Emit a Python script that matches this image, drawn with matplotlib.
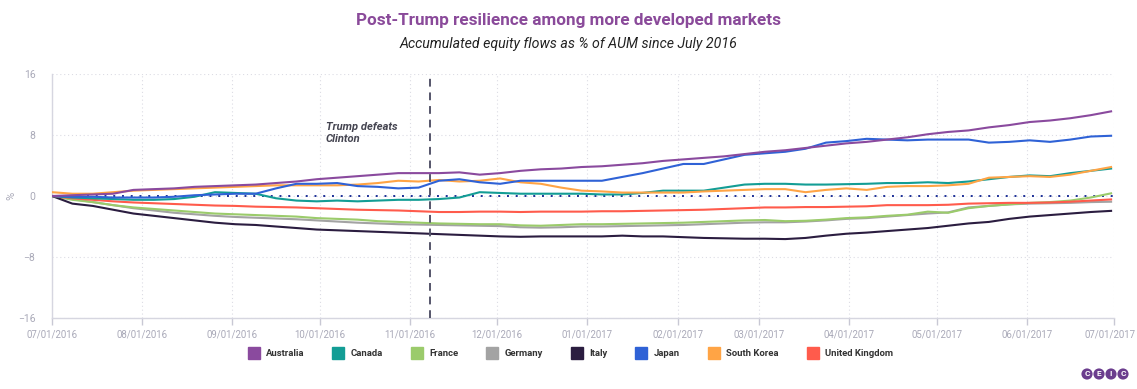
import matplotlib
matplotlib.use("Agg")
import matplotlib.pyplot as plt
import matplotlib.dates as mdates
from matplotlib.transforms import ScaledTranslation
import numpy as np
import pandas as pd

dates = pd.date_range("2016-07-01", periods=53, freq="7D")

australia = [0.0, 0.1, 0.2, 0.3, 0.8, 0.9, 1.0, 1.2, 1.3, 1.4, 1.5, 1.7, 1.9, 2.2, 2.4, 2.6, 2.8, 3.0, 3.0, 3.0,
             3.1, 2.8, 3.0, 3.3, 3.5, 3.6, 3.8, 3.9, 4.1, 4.3, 4.6, 4.8, 5.0, 5.2, 5.5, 5.8, 6.0, 6.3, 6.6, 6.9,
             7.1, 7.4, 7.7, 8.1, 8.4, 8.6, 9.0, 9.3, 9.7, 9.9, 10.2, 10.6, 11.1]
japan = [0.0, -0.1, -0.1, -0.2, -0.2, -0.2, -0.1, 0.1, 0.2, 0.3, 0.3, 1.0, 1.6, 1.6, 1.7, 1.3, 1.2, 1.0, 1.1, 2.0,
         2.2, 1.8, 1.6, 2.0, 2.0, 2.0, 2.0, 2.0, 2.5, 3.0, 3.6, 4.2, 4.2, 4.8, 5.4, 5.6, 5.8, 6.2, 7.0, 7.2,
         7.5, 7.4, 7.3, 7.4, 7.4, 7.4, 7.0, 7.1, 7.3, 7.1, 7.4, 7.8, 7.9]
south_korea = [0.5, 0.3, 0.3, 0.5, 0.7, 0.8, 0.9, 1.0, 1.1, 1.2, 1.3, 1.4, 1.4, 1.4, 1.4, 1.5, 1.7, 2.0, 1.9, 2.1,
               1.9, 2.0, 2.3, 1.8, 1.6, 1.1, 0.7, 0.6, 0.45, 0.45, 0.45, 0.45, 0.6, 0.7, 0.8, 0.9, 0.9, 0.5, 0.8, 1.0,
               0.8, 1.2, 1.3, 1.3, 1.4, 1.6, 2.4, 2.5, 2.6, 2.5, 2.8, 3.3, 3.8]
canada = [0.0, -0.2, -0.3, -0.4, -0.5, -0.5, -0.4, -0.1, 0.5, 0.4, 0.3, -0.3, -0.6, -0.7, -0.6, -0.7, -0.6, -0.5, -0.5, -0.4,
          -0.2, 0.5, 0.4, 0.3, 0.3, 0.3, 0.3, 0.2, 0.2, 0.4, 0.7, 0.7, 0.7, 1.1, 1.5, 1.6, 1.6, 1.5, 1.5, 1.55,
          1.6, 1.7, 1.7, 1.8, 1.7, 1.9, 2.2, 2.5, 2.7, 2.6, 3.0, 3.3, 3.6]
united_kingdom = [0.0, -0.3, -0.5, -0.7, -0.85, -0.95, -1.05, -1.15, -1.25, -1.3, -1.4, -1.45, -1.5, -1.6, -1.7, -1.8,
                  -1.85, -1.9, -2.0, -2.1, -2.1, -2.05, -2.05, -2.1, -2.05, -2.05, -2.05, -2.0, -2.0, -1.95, -1.9,
                  -1.85, -1.8, -1.7, -1.6, -1.5, -1.5, -1.45, -1.45, -1.4, -1.35, -1.2, -1.2, -1.2, -1.15, -1.0,
                  -0.95, -0.9, -0.9, -0.85, -0.75, -0.6, -0.45]
france = [0.0, -0.5, -0.8, -1.2, -1.5, -1.7, -1.9, -2.1, -2.3, -2.4, -2.5, -2.6, -2.7, -2.9, -3.0, -3.1, -3.3, -3.4,
          -3.5, -3.6, -3.65, -3.7, -3.7, -3.85, -3.9, -3.8, -3.7, -3.7, -3.65, -3.6, -3.55, -3.5, -3.4, -3.3, -3.2,
          -3.15, -3.3, -3.25, -3.1, -2.9, -2.8, -2.6, -2.45, -2.05, -2.2, -1.6, -1.3, -1.1, -0.9, -0.8, -0.6, -0.2, 0.35]
germany = [0.0, -0.4, -0.8, -1.2, -1.6, -1.9, -2.2, -2.4, -2.6, -2.75, -2.85, -2.95, -3.05, -3.2, -3.35, -3.5, -3.6,
           -3.7, -3.75, -3.8, -3.85, -3.9, -3.95, -4.1, -4.15, -4.1, -4.0, -4.0, -3.95, -3.9, -3.85, -3.8, -3.7, -3.6,
           -3.5, -3.45, -3.45, -3.35, -3.2, -3.0, -2.9, -2.7, -2.5, -2.3, -2.15, -1.5, -1.3, -1.1, -1.0, -0.95, -0.9,
           -0.8, -0.75]
italy = [0.0, -1.0, -1.3, -1.8, -2.3, -2.6, -2.9, -3.2, -3.5, -3.7, -3.8, -4.0, -4.2, -4.4, -4.5, -4.6, -4.7, -4.8,
         -4.9, -5.0, -5.1, -5.2, -5.3, -5.35, -5.3, -5.3, -5.3, -5.3, -5.2, -5.3, -5.3, -5.4, -5.5, -5.55, -5.6, -5.6,
         -5.65, -5.5, -5.2, -4.95, -4.8, -4.6, -4.4, -4.2, -3.9, -3.6, -3.4, -3.0, -2.7, -2.5, -2.3, -2.1, -1.95]

series_names = ["Australia", "Canada", "France", "Germany", "Italy", "Japan", "South Korea", "United Kingdom"]
series_values = [australia, canada, france, germany, italy, japan, south_korea, united_kingdom]
colors = ["#8a4a9e", "#139d95", "#9bcb6b", "#a3a3a3", "#2b1d40", "#2f62d6", "#ffa445", "#ff5b4c"]
draw_order = ["Germany", "France", "Italy", "United Kingdom", "Canada", "South Korea", "Japan", "Australia"]

event_date = pd.Timestamp("2016-11-08")
yticks = [-16, -8, 0, 8, 16]
month_ticks = pd.date_range("2016-07-01", "2017-07-01", freq="MS")

plt.rcParams['font.family'] = ['Roboto', 'DejaVu Sans']

fig = plt.figure(figsize=(11.37, 3.89), dpi=100)
ax = fig.add_axes([52/1137, 1-318/389, (1114-52)/1137, (318-74)/389])

for name in draw_order:
    i = series_names.index(name)
    ax.plot(dates, series_values[i], color=colors[i], lw=1.5, zorder=3, solid_joinstyle='round')

ax.axhline(0, color="#1c2f96", lw=1.4, ls=(0, (1, 3.5)), zorder=2)
ax.axvline(event_date, color="#55556a", lw=1.4, ls=(0, (4, 3)), zorder=4)

ax.text(pd.Timestamp("2016-10-03"), 8.3, "Trump defeats\nClinton", fontsize=8, fontweight='bold',
        fontstyle='italic', color="#444450", va='center', ha='left', linespacing=1.2)

ax.set_ylim(-16, 16)
ax.set_xlim(pd.Timestamp("2016-07-01"), pd.Timestamp("2017-07-01"))
ax.set_yticks(yticks)
ax.set_xticks(month_ticks)
ax.xaxis.set_major_formatter(mdates.DateFormatter("%m/%d/%Y"))
ax.tick_params(axis='x', colors="#c8c8d4", labelcolor="#a9a9b8", labelsize=6.9, length=5, width=1, pad=3)
ax.tick_params(axis='y', length=0, labelcolor="#a9a9b8", labelsize=7.5, pad=12)
ax.grid(True, color="#dcdce4", ls=(0, (1, 2.5)), lw=0.8)
for s in ["top", "right"]:
    ax.spines[s].set_visible(False)
for s in ["left", "bottom"]:
    ax.spines[s].set_color("#d6d6e0")
    ax.spines[s].set_linewidth(1)
ax.set_ylabel("%", color="#a9a9b8", fontsize=8)
ax.yaxis.set_label_coords(-36/1062, 0.5)

fig.canvas.draw()
last = ax.get_xticklabels()[-1]
last.set_transform(last.get_transform() + ScaledTranslation(-3/72, 0, fig.dpi_scale_trans))

fig.text(0.5, 1-20/389, "Post-Trump resilience among more developed markets", ha='center', va='center',
         fontsize=12.3, fontweight='bold', color="#8a4a9a")
fig.text(0.5, 1-44/389, "Accumulated equity flows as % of AUM since July 2016", ha='center', va='center',
         fontsize=10.2, fontstyle='italic', color="#222222")

handles = [plt.Line2D([], [], ls='none', marker='s', markersize=8, markerfacecolor=c, markeredgecolor=c)
           for c in colors]
fig.legend(handles, series_names, loc='center', bbox_to_anchor=(0.5, 1-354/389), ncol=8, frameon=False,
           handletextpad=0.3, columnspacing=2.6, prop={'weight': 'bold', 'size': 6.8})
for t in fig.legends[0].get_texts():
    t.set_color("#333333")

# CEIC logo
for k, ch in enumerate("CEIC"):
    fig.text((1087 + k*12)/1137, 1-374/389, ch, ha='center', va='center', fontsize=6, fontweight='bold',
             color='white', bbox=dict(boxstyle='circle,pad=0.25', fc="#6b3d8e", ec='none'))

fig.savefig("out.png", dpi=100)
